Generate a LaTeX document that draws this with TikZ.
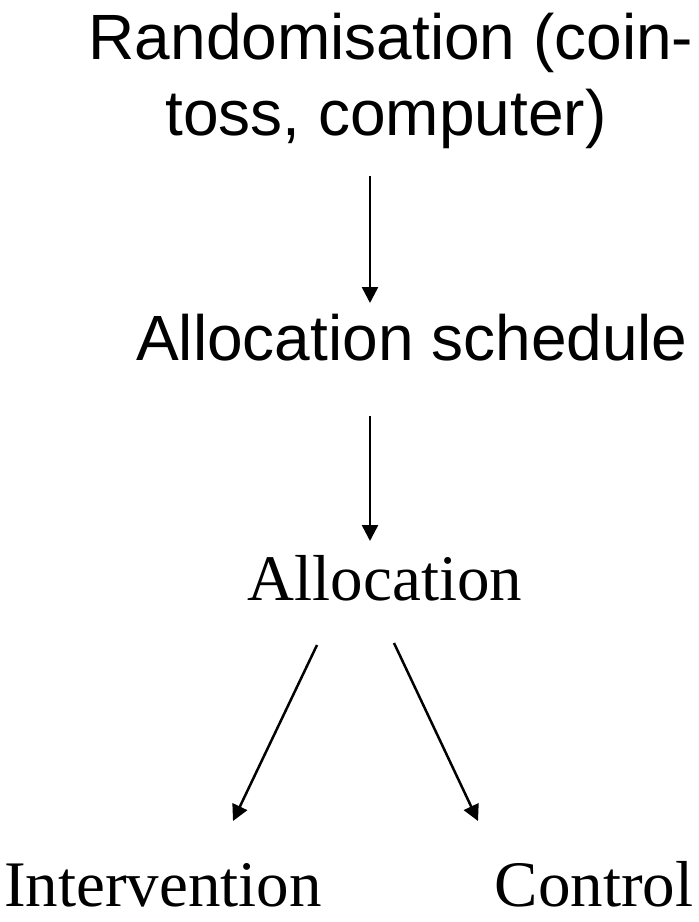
\documentclass[tikz,border=0pt]{standalone}
\usepackage{fontspec}
\setmainfont{Liberation Serif}
\newfontfamily\arialfont{Liberation Sans}
\usetikzlibrary{arrows.meta}
\tikzset{
  sanslbl/.style={inner sep=0pt, anchor=base, font=\arialfont\fontsize{64}{64}\selectfont},
  seriflbl/.style={inner sep=0pt, anchor=base, font=\fontsize{65}{65}\selectfont},
  arr/.style={line width=2.5pt, -{Triangle[length=16pt,width=16pt]}}
}
\begin{document}
\begin{tikzpicture}[x=1pt,y=-1pt]
\useasboundingbox (0,0) rectangle (699,922);
\node[sanslbl] (r1) at (391,59) {Randomisation (coin-};
\node[sanslbl] (r2) at (386,135) {toss, computer)};
\node[sanslbl] (sched) at (412,360) {Allocation schedule};
\node[seriflbl] (alloc) at (385,600) {Allocation};
\node[seriflbl] (interv) at (163,906) {Intervention};
\node[seriflbl] (ctrl) at (594,906) {Control};
\coordinate (a1s) at (370,176);
\coordinate (a1e) at (370,303);
\coordinate (a2s) at (370,416);
\coordinate (a2e) at (370,541);
\coordinate (a3s) at (317,645);
\coordinate (a3e) at (233,821);
\coordinate (a4s) at (394,643);
\coordinate (a4e) at (478,821);
\draw[arr] (a1s) -- (a1e);
\draw[arr] (a2s) -- (a2e);
\draw[arr] (a3s) -- (a3e);
\draw[arr] (a4s) -- (a4e);
\end{tikzpicture}
\end{document}
